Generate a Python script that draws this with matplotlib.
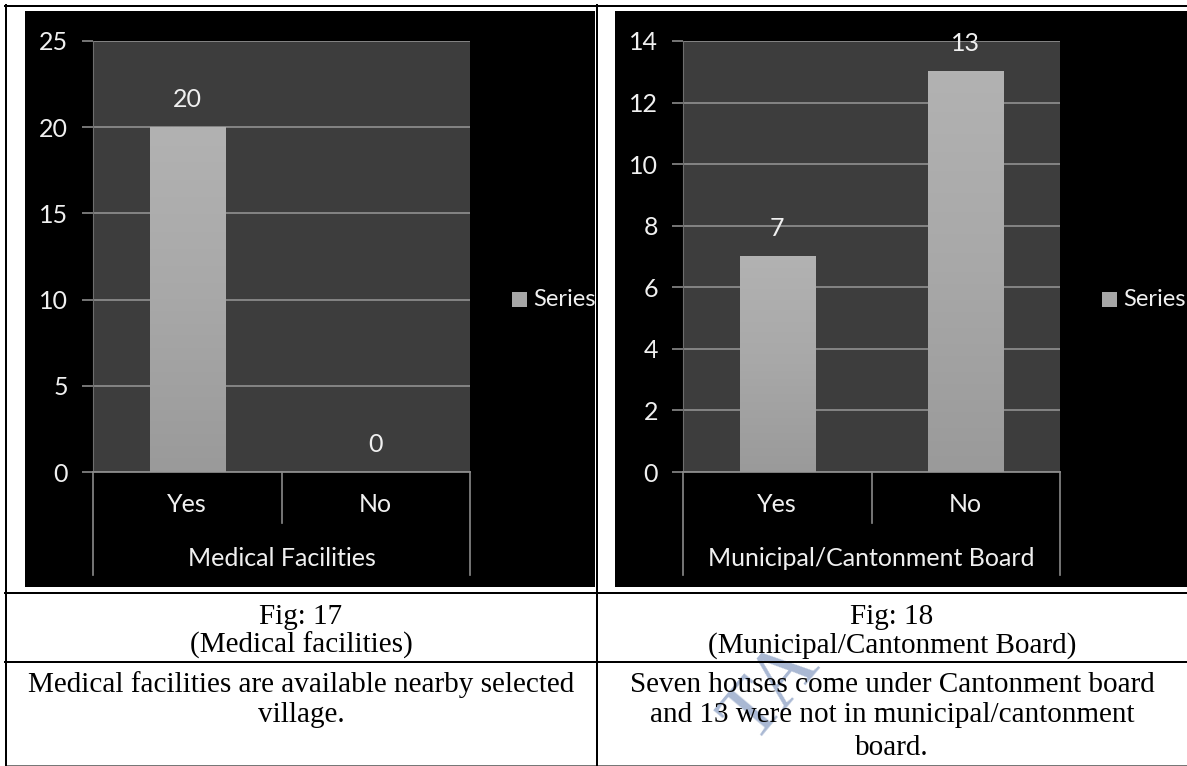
import numpy as np
import matplotlib.pyplot as plt
from matplotlib.patches import Rectangle
from matplotlib.lines import Line2D
from matplotlib.colors import LinearSegmentedColormap
from matplotlib.transforms import blended_transform_factory

W, H = 1187, 766

# chart data
med_cats = ['Yes', 'No']
med_vals = [20, 0]
med_title = 'Medical Facilities'

mun_cats = ['Yes', 'No']
mun_vals = [7, 13]
mun_title = 'Municipal/Cantonment Board'

legend_label = 'Series'

# table text under the charts
cap_left = ['Fig: 17', '(Medical facilities)']
cap_right = ['Fig: 18', '(Municipal/Cantonment Board)']
note_left = ['Medical facilities are available nearby selected', 'village.']
note_right = ['Seven houses come under Cantonment board',
              'and 13 were not in municipal/cantonment', 'board.']

CHART_FONT = ['Lato', 'DejaVu Sans']
TEXT_FONT = ['Liberation Serif', 'DejaVu Serif']
TXT = '#f0f0f0'
GRID = '#8a8a8a'
CFS = 18   # chart font size
TFS = 21   # table font size

bar_cmap = LinearSegmentedColormap.from_list('bar', ['#9a9a9a', '#a8a8a8', '#b2b2b2'])

fig = plt.figure(figsize=(W / 100, H / 100), dpi=100)
fig.patch.set_facecolor('white')


def fx(x):
    return x / W


def fy(y):
    return 1 - y / H


def px_to_pt(p):
    return p * 72 / 100


def add_panel(x0, x1, y0, y1):
    r = Rectangle((fx(x0), fy(y1)), fx(x1) - fx(x0), fy(y0) - fy(y1),
                  transform=fig.transFigure, facecolor='black',
                  edgecolor='none', zorder=0)
    fig.add_artist(r)
    return r


def bar_chart(box, cats, vals, ymax, step, title, panel, axis_bottom, mid_bottom):
    x0, x1, y0, y1 = box
    ax = fig.add_axes([fx(x0), fy(y1), fx(x1) - fx(x0), fy(y0) - fy(y1)])
    ax.set_facecolor('#3d3d3d')
    x = np.arange(len(cats))
    bars = ax.bar(x, vals, width=0.4, color='#a6a6a6', zorder=3)

    # soft vertical shading on each bar
    grad = np.linspace(0, 1, 128).reshape(-1, 1)
    for b in bars:
        if b.get_height() > 0:
            ax.imshow(grad, cmap=bar_cmap, origin='lower', aspect='auto',
                      extent=[b.get_x(), b.get_x() + b.get_width(), 0, b.get_height()],
                      zorder=3)

    ax.set_xlim(-0.5, len(cats) - 0.5)
    ax.set_ylim(0, ymax)
    ax.set_yticks(np.arange(0, ymax + step, step))
    ax.set_xticks([])
    ax.tick_params(axis='y', length=8, width=1.2, color=GRID, labelcolor=TXT,
                   labelsize=CFS, pad=px_to_pt(14))
    for lab in ax.get_yticklabels():
        lab.set_family(CHART_FONT)
    ax.yaxis.grid(True, color=GRID, lw=1.3)
    ax.set_axisbelow(True)
    for s in ['top', 'right']:
        ax.spines[s].set_visible(False)
    ax.spines['left'].set_color('#6e6e6e')
    ax.spines['bottom'].set_color(GRID)
    ax.spines['bottom'].set_linewidth(1.3)

    # value labels above the bars
    for xi, v in zip(x, vals):
        ax.annotate(str(v), (xi, v), xytext=(0, px_to_pt(28)),
                    textcoords='offset points', ha='center', va='center',
                    color=TXT, fontsize=CFS, family=CHART_FONT, zorder=5)

    # category boxes under the axis
    def ay(py):
        return (y1 - py) / (y1 - y0)

    tr = blended_transform_factory(ax.transData, ax.transAxes)
    for xb in [-0.5, len(cats) - 0.5]:
        ax.add_line(Line2D([xb, xb], [0, ay(axis_bottom)], transform=tr,
                           color=GRID, lw=1.2, clip_on=False))
    for xb in np.arange(0.5, len(cats) - 0.5):
        ax.add_line(Line2D([xb, xb], [0, ay(mid_bottom)], transform=tr,
                           color=GRID, lw=1.2, clip_on=False))
    for xi, c in zip(x, cats):
        ax.text(xi, ay(505), c, transform=tr, ha='center', va='center',
                color=TXT, fontsize=CFS, family=CHART_FONT)
    ax.text((len(cats) - 1) / 2, ay(558), title, transform=tr, ha='center',
            va='center', color=TXT, fontsize=CFS, family=CHART_FONT)

    # legend entry to the right, cut off by the panel edge
    lx = x1 + 42
    sq = Rectangle((fx(lx), fy(307)), fx(15), 15 / H, transform=fig.transFigure,
                   facecolor='#a6a6a6', edgecolor='none')
    fig.add_artist(sq)
    t = fig.text(fx(lx + 21), fy(300), legend_label, ha='left', va='center',
                 color=TXT, fontsize=17, family=CHART_FONT)
    t.set_clip_path(panel)
    return ax


left_panel = add_panel(25, 595, 11, 587)
right_panel = add_panel(615, 1187, 11, 587)

bar_chart((93, 470, 41, 472), med_cats, med_vals, 25, 5, med_title,
          left_panel, 575, 523)
bar_chart((683, 1060, 41, 472), mun_cats, mun_vals, 14, 2, mun_title,
          right_panel, 575, 523)

# faint watermark behind the notes
fig.text(fx(772), fy(692), 'TA', rotation=50, color='#a9b8d3', fontsize=60,
         family=TEXT_FONT, ha='center', va='center', zorder=1)

# table rules
def hline(y, x0=5, x1=W, lw=2, color='black'):
    fig.add_artist(Line2D([fx(x0), fx(x1)], [fy(y), fy(y)], transform=fig.transFigure,
                          color=color, lw=px_to_pt(lw), zorder=4))


def vline(x, y0=5, y1=H, lw=2, color='black'):
    fig.add_artist(Line2D([fx(x), fx(x)], [fy(y0), fy(y1)], transform=fig.transFigure,
                          color=color, lw=px_to_pt(lw), zorder=4))


hline(6)
hline(593)
hline(662)
hline(765, lw=1, color='#777777')
vline(6)
vline(597)

# captions and notes
for lines, cx in [(cap_left, 301), (cap_right, 892)]:
    for txt, yb in zip(lines, [624, 653]):
        fig.text(fx(cx), fy(yb), txt, ha='center', va='baseline', fontsize=TFS,
                 family=TEXT_FONT, color='black', zorder=5)
for lines, cx in [(note_left, 301), (note_right, 892)]:
    for txt, yb in zip(lines, [692, 722, 755]):
        fig.text(fx(cx), fy(yb), txt, ha='center', va='baseline', fontsize=TFS,
                 family=TEXT_FONT, color='black', zorder=5)

fig.savefig('out.png', dpi=100, facecolor='white')
